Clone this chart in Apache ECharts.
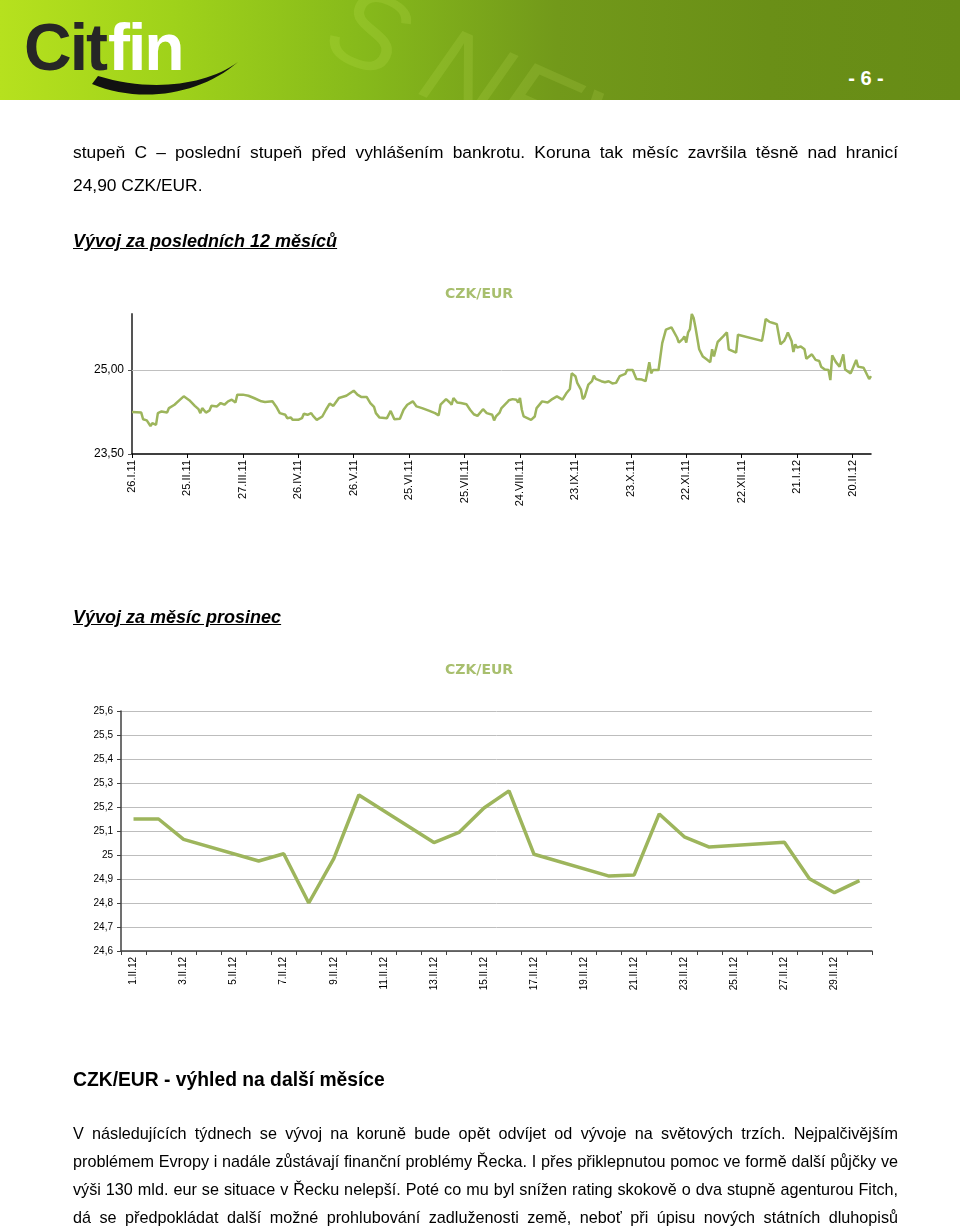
<!DOCTYPE html>
<html>
<head>
<meta charset="utf-8">
<script src="https://cdn.jsdelivr.net/npm/echarts@6/dist/echarts.min.js"></script>
<style>
  html, body { margin:0; padding:0; background:#fff; }
  body { width:960px; height:1226px; position:relative; overflow:hidden; font-family:"Liberation Sans", Arial, sans-serif; }
  #banner { position:absolute; left:0; top:0; width:960px; height:100px; overflow:hidden;
    background: linear-gradient(90deg, #b6e11e 0%, #9fd21a 18%, #86b91b 38%, #72991a 58%, #6a8f17 80%, #678c16 100%); }
  #chart { position:absolute; left:0; top:0; width:960px; height:1226px; }
  .ln { position:absolute; left:73px; width:825px; height:22px; line-height:22px; font-size:17.4px; color:#000; white-space:nowrap; }
  .ln2 { font-size:16.2px; }
  .jus { text-align:justify; text-align-last:justify; }
  .hd { position:absolute; left:73px; height:22px; line-height:22px; font-weight:bold; color:#000; white-space:nowrap; }
</style>
</head>
<body>
<div id="banner">
  <svg width="960" height="100" style="position:absolute;left:0;top:0">
    <text x="330" y="95" font-family="Liberation Sans" font-size="110" font-style="italic" fill="rgba(230,255,120,0.12)" transform="rotate(24 430 50)">S NEW</text>
    <path d="M92,84 C140,104 200,95 238,62 C205,86 150,92 98,76 Z" fill="#111"/>
    <text x="24" y="70" font-family="Liberation Sans" font-weight="bold" font-size="66" fill="#262626" letter-spacing="-2">Cit</text>
    <text x="108" y="70" font-family="Liberation Sans" font-weight="bold" font-size="66" fill="#ffffff" letter-spacing="-2">fin</text>
    <text x="866" y="85" text-anchor="middle" font-family="Liberation Sans" font-weight="bold" font-size="20" fill="#ffffff">- 6 -</text>
  </svg>
</div>
<div id="chart"></div>

<div class="ln jus" style="top:141px">stupeň C – poslední stupeň před vyhlášením bankrotu. Koruna tak měsíc završila těsně nad hranicí</div>
<div class="ln" style="top:174px">24,90 CZK/EUR.</div>
<div class="hd" style="top:230px;font-size:18px;font-style:italic;text-decoration:underline;">Vývoj za posledních 12 měsíců</div>
<div class="hd" style="top:606px;font-size:18px;font-style:italic;text-decoration:underline;">Vývoj za měsíc prosinec</div>
<div class="hd" style="top:1069px;font-size:19.3px;">CZK/EUR - výhled na další měsíce</div>
<div class="ln ln2 jus" style="top:1122px">V následujících týdnech se vývoj na koruně bude opět odvíjet od vývoje na světových trzích. Nejpalčivějším</div>
<div class="ln ln2 jus" style="top:1150px">problémem Evropy i nadále zůstávají finanční problémy Řecka. I přes přiklepnutou pomoc ve formě další půjčky ve</div>
<div class="ln ln2 jus" style="top:1178px">výši 130 mld. eur se situace v Řecku nelepší. Poté co mu byl snížen rating skokově o dva stupně agenturou Fitch,</div>
<div class="ln ln2 jus" style="top:1206px">dá se předpokládat další možné prohlubování zadluženosti země, neboť při úpisu nových státních dluhopisů</div>

<script>
// ---- Chart 1: last 12 months (day offsets from 26.I.11) ----
const yearTickLabels = ['26.I.11','25.II.11','27.III.11','26.IV.11','26.V.11','25.VI.11','25.VII.11','24.VIII.11','23.IX.11','23.X.11','22.XI.11','22.XII.11','21.I.12','20.II.12'];
const yearDays = [0,5,6,8,10,11,13,14,16,19,20,23,26,28,31,34,36,37,38,40,42,43,46,48,50,52,54,56,57,60,63,66,70,72,76,78,80,83,84,86,87,90,92,93,95,97,98,100,103,105,107,109,112,113,116,120,122,124,125,127,129,131,132,134,138,139,140,142,145,147,149,152,154,157,158,161,164,166,167,170,172,173,174,176,178,181,183,185,187,190,192,195,196,197,199,200,203,204,206,208,209,210,211,212,214,216,218,219,222,223,225,227,230,231,233,235,237,238,240,241,243,244,245,247,249,250,251,254,256,258,260,262,264,265,267,268,271,272,273,276,278,280,281,282,285,287,289,292,293,295,296,298,299,300,301,302,303,304,305,307,309,311,313,314,315,317,320,322,323,327,328,341,342,343,345,347,349,350,351,353,354,355,357,358,359,360,361,362,364,365,366,368,370,372,373,375,377,378,379,381,383,385,386,389,390,392,393,396,397,399,400];
const yearRates = [24.25,24.24,24.12,24.10,24.00,24.05,24.02,24.23,24.26,24.24,24.32,24.38,24.47,24.53,24.46,24.36,24.30,24.23,24.32,24.24,24.28,24.36,24.35,24.41,24.38,24.44,24.47,24.42,24.56,24.56,24.54,24.50,24.44,24.43,24.44,24.35,24.23,24.20,24.14,24.15,24.11,24.11,24.14,24.22,24.20,24.23,24.18,24.11,24.17,24.29,24.40,24.36,24.50,24.47,24.54,24.63,24.56,24.52,24.54,24.52,24.41,24.34,24.23,24.15,24.14,24.12,24.27,24.12,24.13,24.29,24.38,24.44,24.35,24.32,24.29,24.27,24.23,24.19,24.38,24.48,24.42,24.38,24.50,24.42,24.41,24.39,24.29,24.21,24.18,24.30,24.23,24.20,24.10,24.17,24.24,24.32,24.42,24.46,24.48,24.47,24.42,24.50,24.29,24.17,24.14,24.11,24.17,24.32,24.44,24.46,24.42,24.47,24.53,24.52,24.47,24.58,24.66,24.94,24.89,24.77,24.65,24.48,24.52,24.74,24.80,24.90,24.84,24.80,24.78,24.80,24.76,24.77,24.89,24.88,24.93,25.00,25.00,24.92,24.84,24.83,24.80,25.14,24.94,25.00,25.00,25.48,25.72,25.76,25.79,25.58,25.49,25.55,25.60,25.49,25.67,25.73,26.00,25.93,25.76,25.37,25.24,25.19,25.14,25.37,25.24,25.50,25.60,25.67,25.37,25.31,25.63,25.52,25.70,25.91,25.86,25.84,25.82,25.84,25.46,25.52,25.59,25.67,25.52,25.32,25.46,25.40,25.38,25.42,25.37,25.20,25.18,25.28,25.18,25.16,25.06,25.01,25.00,24.82,25.26,25.14,25.06,25.28,25.01,24.94,24.94,25.18,25.06,25.04,25.03,24.84,24.89];
const yearYTicks = [23.5, 25];

// ---- Chart 2: February 2012 daily ----
const monthCategories = ['1.II.12','2.II.12','3.II.12','4.II.12','5.II.12','6.II.12','7.II.12','8.II.12','9.II.12','10.II.12','11.II.12','12.II.12','13.II.12','14.II.12','15.II.12','16.II.12','17.II.12','18.II.12','19.II.12','20.II.12','21.II.12','22.II.12','23.II.12','24.II.12','25.II.12','26.II.12','27.II.12','28.II.12','29.II.12','1.III.12'];
const monthRates = [25.15,25.15,25.065,null,null,24.975,25.005,24.80,24.985,25.25,null,null,25.052,25.094,25.196,25.267,25.003,null,null,24.912,24.917,25.171,25.076,25.033,null,null,25.053,24.901,24.843,24.893];

const lineColor = '#9db55c';
const titleColor = '#a8bf6e';
const font = 'Liberation Sans';

const chart = echarts.init(document.getElementById('chart'), null, {renderer:'canvas'});
const yearTickDays = yearTickLabels.map((_, i) => i * 30);

chart.setOption({
  animation: false,
  backgroundColor: 'transparent',
  title: [
    {text:'CZK/EUR', left:440, top:282, textStyle:{fontFamily:'DejaVu Sans', fontWeight:'bold', fontSize:14, color:titleColor}},
    {text:'CZK/EUR', left:440, top:658, textStyle:{fontFamily:'DejaVu Sans', fontWeight:'bold', fontSize:14, color:titleColor}}
  ],
  grid: [
    {left:132, top:314, width:739, height:140, containLabel:false},
    {left:121, top:711, width:751, height:240, containLabel:false}
  ],
  xAxis: [
    {
      type:'value', gridIndex:0, min:0, max:400, interval:30,
      axisLine:{show:true, lineStyle:{color:'#000', width:1.5}},
      axisTick:{show:true, length:4, lineStyle:{color:'#000'}, customValues: yearTickDays},
      splitLine:{show:false},
      axisLabel:{
        rotate:90, fontSize:11, color:'#000', fontFamily:font, margin:6,
        customValues: yearTickDays,
        formatter: v => (v % 30 === 0 && yearTickLabels[v/30]) ? yearTickLabels[v/30] : ''
      }
    },
    {
      type:'category', gridIndex:1, data: monthCategories, boundaryGap:true,
      axisLine:{show:true, lineStyle:{color:'#404040', width:1.5}},
      axisTick:{show:true, interval:0, length:4, lineStyle:{color:'#404040'}},
      axisLabel:{rotate:90, interval:1, fontSize:10, color:'#000', fontFamily:font, margin:6}
    }
  ],
  yAxis: [
    {
      type:'value', gridIndex:0, min:23.5, max:26, interval:1.5,
      axisLine:{show:true, lineStyle:{color:'#555', width:2}},
      axisTick:{show:true, length:4, lineStyle:{color:'#555'}, customValues: yearYTicks},
      splitLine:{show:false},
      axisLabel:{fontSize:12, color:'#000', fontFamily:font, margin:8, customValues: yearYTicks,
        formatter: v => (v === 26 ? '' : v.toFixed(2).replace('.', ','))}
    },
    {
      type:'value', gridIndex:1, min:24.6, max:25.6, interval:0.1,
      axisLine:{show:true, lineStyle:{color:'#404040', width:1.5}},
      axisTick:{show:true, length:4, lineStyle:{color:'#404040'}},
      splitLine:{show:true, lineStyle:{color:'#bdbdbd', width:1}},
      axisLabel:{fontSize:10, color:'#000', fontFamily:font, margin:8,
        formatter: v => String(Number(v.toFixed(1))).replace('.', ',')}
    }
  ],
  series: [
    {
      type:'line', xAxisIndex:0, yAxisIndex:0, symbol:'none', z:3,
      lineStyle:{color:lineColor, width:2.5},
      data: yearDays.map((d, i) => [d, yearRates[i]]),
      markLine:{silent:true, symbol:'none', z:1, label:{show:false},
        lineStyle:{color:'#c0c0c0', type:'solid', width:1},
        data:[{yAxis:25}]}
    },
    {
      type:'line', xAxisIndex:1, yAxisIndex:1, symbol:'none', connectNulls:true,
      lineStyle:{color:lineColor, width:3.5},
      data: monthRates
    }
  ]
});
</script>
</body>
</html>
